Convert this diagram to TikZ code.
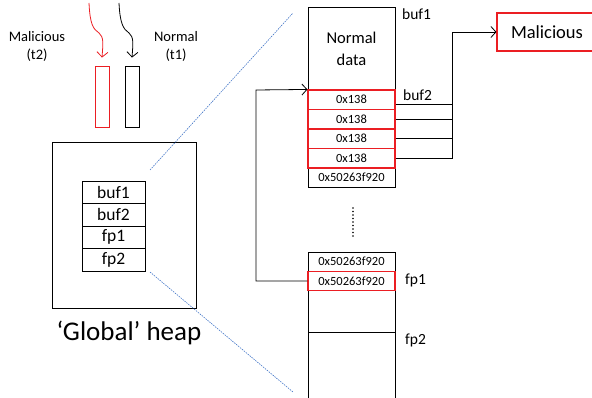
\documentclass[tikz,border=0pt]{standalone}
\usepackage{fontspec}
\setmainfont{Carlito}
\usetikzlibrary{arrows.meta}
\definecolor{malred}{RGB}{235,30,35}
\definecolor{dashblue}{RGB}{70,120,200}
\tikzset{
  cell/.style={draw, line width=0.9pt, inner sep=0pt, minimum width=87pt, font=\fontsize{12.5}{14}\selectfont},
  redcell/.style={cell, draw=malred, line width=1.1pt},
  heaprow/.style={draw, line width=0.9pt, inner sep=0pt, minimum width=63pt, minimum height=22.5pt, font=\fontsize{17.5}{19}\selectfont},
  lbl/.style={inner sep=0pt, font=\fontsize{15.5}{17}\selectfont},
  arr/.style={line width=0.8pt, -{Straight Barb[length=5pt,width=11pt]}},
  conn/.style={line width=0.8pt},
  blued/.style={dashblue, line width=0.6pt, dash pattern=on 1.5pt off 1pt},
}
\begin{document}
\begin{tikzpicture}[x=1pt,y=-1pt]
\useasboundingbox (0,0) rectangle (592,398);
% top thread buffers
\node[draw=malred, line width=0.9pt, minimum width=14pt, minimum height=61pt, inner sep=0pt] (tb2) at (102,96.5) {};
\node[draw, line width=0.9pt, minimum width=14pt, minimum height=61pt, inner sep=0pt] (tb1) at (132,96.5) {};
\node[lbl, align=center, font=\fontsize{14.5}{18}\selectfont] (t2) at (37,46) {Malicious\\(t2)};
\node[lbl, align=center, font=\fontsize{14.5}{18}\selectfont] (t1) at (176,46) {Normal\\(t1)};
\coordinate (r0) at (89,3);
\coordinate (k0) at (119,3);
\draw[arr, malred] (r0) .. controls (90,24) and (93,29) .. (99,33) .. controls (104,37) and (103,44) .. ([yshift=8pt]tb2.north);
\draw[arr] (k0) .. controls (120,23) and (123,29) .. (129,33) .. controls (134,37) and (133,44) .. ([yshift=8pt]tb1.north);
% global heap
\node[draw, line width=0.9pt, minimum width=144pt, minimum height=166pt, inner sep=0pt] (heap) at (124,225) {};
\node[heaprow] (h1) at (113.5,192.25) {buf1};
\node[heaprow] (h2) at (113.5,214.75) {buf2};
\node[heaprow] (h3) at (113.5,237.25) {fp1};
\node[heaprow] (h4) at (113.5,259.75) {fp2};
\node[inner sep=0pt, font=\fontsize{27}{28}\selectfont] (gl) at (129,333) {`Global' heap};
% blue dashed zoom lines
\coordinate (z1) at (150,170);
\coordinate (z2) at (293,13);
\coordinate (z3) at (150,272);
\coordinate (z4) at (293,392);
\draw[blued] (z1) -- (z2);
\draw[blued] (z3) -- (z4);
% right column
\node[cell, minimum height=83pt, align=center, font=\fontsize{16.5}{22}\selectfont] (nd) at (351.5,48.5) {Normal\\data};
\node[cell, minimum height=19pt] (p0) at (351.5,177.5) {0x50263f920};
\node[redcell, minimum height=19.5pt] (r1) at (351.5,99.75) {0x138};
\node[redcell, minimum height=19.5pt] (r2) at (351.5,119.25) {0x138};
\node[redcell, minimum height=19.5pt] (r3) at (351.5,138.75) {0x138};
\node[redcell, minimum height=19.5pt] (r4) at (351.5,158.25) {0x138};
\node[lbl, anchor=west] (lb1) at (402,14) {buf1};
\node[lbl, anchor=west] (lb2) at (403,95) {buf2};
% dots
\node[inner sep=0pt] (dots) at (353,221) {};
\foreach \yy in {208,211.5,...,236} \fill (353,\yy) circle (0.9pt);
% lower column
\draw[line width=0.9pt] (308,410) -- (308,252) -- (395,252) -- (395,410);
\node[cell, minimum height=19pt] (q0) at (351.5,261.5) {0x50263f920};
\node[redcell, minimum height=19.5pt] (f1) at (351.5,281) {0x50263f920};
\coordinate (fp2l) at (308,332);
\coordinate (fp2r) at (395,332);
\draw[line width=0.9pt] (fp2l) -- (fp2r);
\node[lbl, anchor=west] (lf1) at (405,280) {fp1};
\node[lbl, anchor=west] (lf2) at (405,340) {fp2};
% malicious box
\node[draw=malred, line width=1.1pt, minimum width=100pt, minimum height=38pt, inner sep=0pt, font=\fontsize{18.5}{20}\selectfont] (mal) at (547,32) {Malicious};
% connectors to malicious
\coordinate (jx) at (452,32);
\draw[conn] ([yshift=-5pt]r1.east) -- ([yshift=-5pt]r1.east -| jx);
\draw[conn] (r2.east) -- (r2.east -| jx);
\draw[conn] (r3.east) -- (r3.east -| jx);
\draw[arr] (r4.east) -| (jx) -- (mal.west);
% fp1 loop back
\coordinate (lx) at (256,90);
\draw[arr] (f1.west) -| (lx) -- (r1.north west);
\end{tikzpicture}
\end{document}
